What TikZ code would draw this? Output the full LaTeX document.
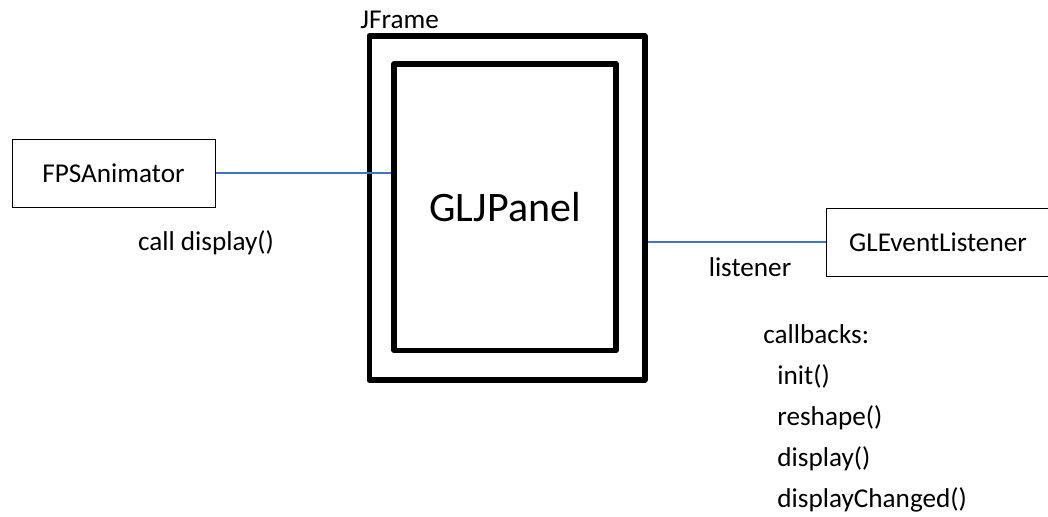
\documentclass[tikz,border=0pt]{standalone}
\usepackage{fontspec}
\setmainfont{Carlito}
\definecolor{linkblue}{RGB}{68,114,196}
\tikzset{
    box/.style={draw, line width=0.5pt, minimum width=101.5pt, minimum height=34pt, font=\fontsize{13.6}{16}\selectfont},
    frame/.style={draw, line width=2.75pt, line join=round},
    link/.style={draw=linkblue, line width=1.25pt},
    txt/.style={anchor=base west, inner sep=0pt, font=\fontsize{13.6}{16}\selectfont}
}
\begin{document}
\begin{tikzpicture}[x=0.5pt, y=-0.5pt]
    \useasboundingbox (0,0) rectangle (1048,516);
    %JFrame
    \node[frame, minimum width=137.75pt, minimum height=172pt] (jframe) at (507,208) {};
    \node[txt] (jframelbl) at (360,28) {JFrame};
    %GLJPanel
    \node[frame, minimum width=111pt, minimum height=143.25pt, font=\fontsize{21}{25}\selectfont] (panel) at (505,207) {GLJPanel};
    %FPSAnimator
    \node[box] (anim) at (113.5,173) {FPSAnimator};
    \node[txt, anchor=base] (calllbl) at (206,250) {call display()};
    \draw[link] (anim.east) -- (anim.east -| panel.west);
    %GLEventListener
    \node[box, minimum width=113pt] (lstn) at (939,242) {\hspace*{-1pt}GLEventListener};
    \node[txt, anchor=base] (lstnlbl) at (750,276) {listener};
    \draw[link] (lstn.west) -- (lstn.west -| jframe.east);
    %Callbacks
    \node[txt] (cb) at (763,343) {callbacks:};
    \node[txt] (cbinit) at (777,384) {init()};
    \node[txt] (cbreshape) at (777,425) {reshape()};
    \node[txt] (cbdisplay) at (777,466) {display()};
    \node[txt] (cbchanged) at (777,507) {displayChanged()};
\end{tikzpicture}
\end{document}
